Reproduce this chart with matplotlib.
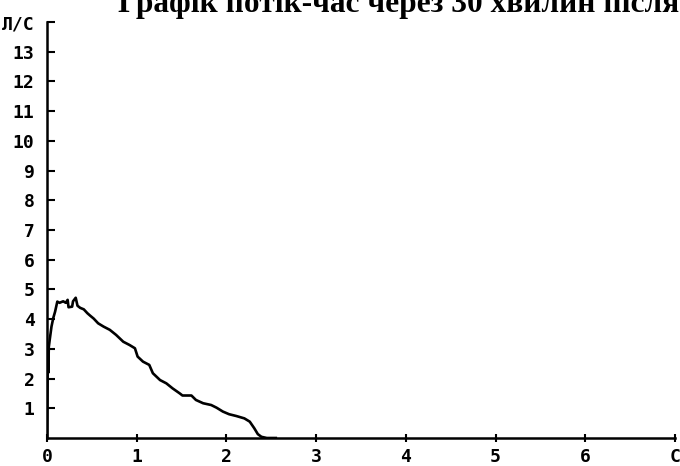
import matplotlib
matplotlib.use("Agg")
import matplotlib.pyplot as plt

# Flow-time curve (seconds, litres per second)
time_s = [0.0, 0.005, 0.01, 0.015, 0.02, 0.03, 0.05, 0.07, 0.09, 0.115, 0.14, 0.18,
          0.21, 0.23, 0.24, 0.28, 0.29, 0.32, 0.34, 0.37, 0.41, 0.45, 0.48, 0.52,
          0.57, 0.63, 0.70, 0.77, 0.85, 0.92, 0.98, 1.01, 1.07, 1.14, 1.18, 1.26,
          1.33, 1.40, 1.48, 1.51, 1.61, 1.66, 1.74, 1.83, 1.89, 1.96, 2.03, 2.11,
          2.20, 2.26, 2.31, 2.35, 2.39, 2.45, 2.55]
flow_ls = [0.0, 1.5, 3.0, 2.2, 3.06, 3.3, 3.75, 4.04, 4.25, 4.59, 4.55, 4.6,
           4.55, 4.65, 4.4, 4.42, 4.6, 4.72, 4.45, 4.38, 4.33, 4.2, 4.12, 4.02,
           3.86, 3.75, 3.64, 3.47, 3.24, 3.13, 3.02, 2.74, 2.57, 2.46, 2.18, 1.95,
           1.84, 1.67, 1.50, 1.43, 1.43, 1.28, 1.17, 1.11, 1.02, 0.89, 0.80, 0.74,
           0.66, 0.55, 0.33, 0.13, 0.04, 0.0, 0.0]

x_ticks = [0, 1, 2, 3, 4, 5, 6, 7]
x_labels = ["0", "1", "2", "3", "4", "5", "6", "С"]
y_ticks = list(range(1, 15))
y_labels = [str(v) for v in range(1, 14)] + ["Л/С"]
title = "Графік потік-час через 30 хвилин після"

fig = plt.figure(figsize=(6.8, 4.66), dpi=100)
ax = fig.add_axes([47/680, 28/466, (675-47)/680, (438-22)/466])

ax.plot(time_s, flow_ls, color="black", lw=1.9)

ax.set_xlim(0, 7)
ax.set_ylim(0, 14)
for s in ("top", "right"):
    ax.spines[s].set_visible(False)
for s in ("left", "bottom"):
    ax.spines[s].set_linewidth(1.8)
    ax.spines[s].set_color("black")

ax.set_xticks(x_ticks)
ax.set_xticklabels(x_labels)
ax.set_yticks(y_ticks)
ax.set_yticklabels(y_labels)

for lab in ax.get_xticklabels() + ax.get_yticklabels():
    lab.set_fontfamily("DejaVu Sans Mono")
    lab.set_fontweight("bold")
    lab.set_fontsize(13)

ax.tick_params(axis="y", direction="in", length=6, width=1.5, pad=9)
ax.tick_params(axis="x", direction="inout", length=6, width=1.5, pad=4)

fig.text(118/680, 1 - 12/466, title, ha="left", va="baseline",
         family="Liberation Serif", weight="bold", fontsize=22.6)

fig.savefig("out.png", dpi=100)
